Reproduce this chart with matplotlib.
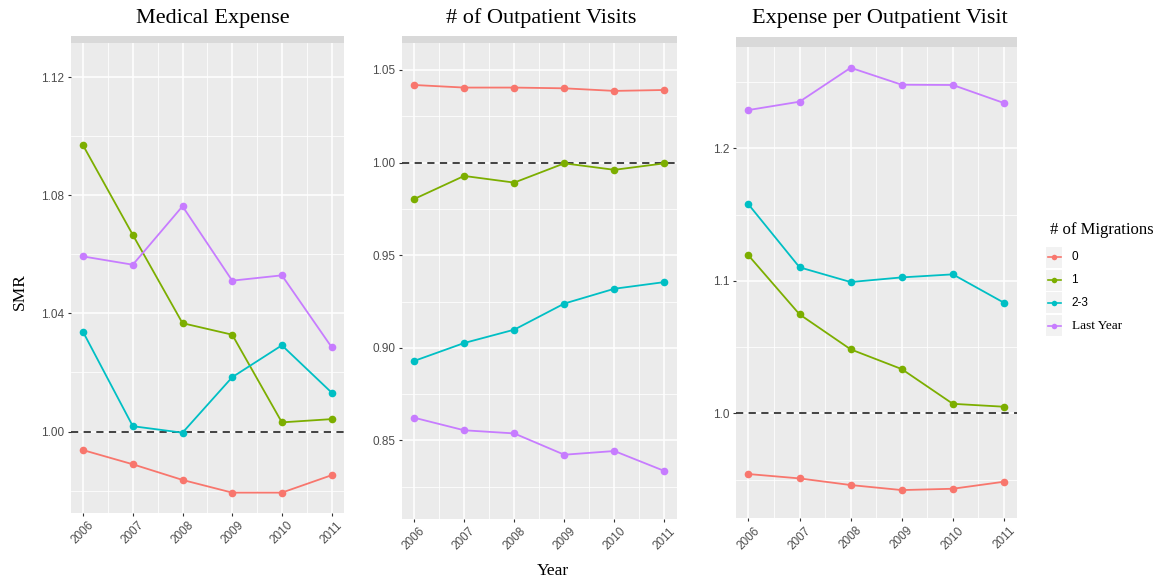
import matplotlib
matplotlib.use('Agg')
import matplotlib.pyplot as plt
from matplotlib.patches import Rectangle
from matplotlib.lines import Line2D
from matplotlib.ticker import FixedLocator, FormatStrFormatter

W, H = 1161, 579

years = [2006, 2007, 2008, 2009, 2010, 2011]
groups = ['0', '1', '2-3', 'Last Year']
colors = ['#F8766D', '#7CAE00', '#00BFC4', '#C77CFF']

# Medical expense SMR
med_0 = [0.9937, 0.9889, 0.9836, 0.9793, 0.9793, 0.9852]
med_1 = [1.0969, 1.0666, 1.0367, 1.0328, 1.0031, 1.0042]
med_23 = [1.0337, 1.0018, 0.9996, 1.0184, 1.0292, 1.0132]
med_last = [1.0593, 1.0565, 1.0763, 1.0511, 1.0529, 1.0286]

# number of outpatient visits SMR
vis_0 = [1.0419, 1.0405, 1.0405, 1.0401, 1.0387, 1.0392]
vis_1 = [0.9803, 0.9928, 0.9892, 0.9996, 0.9961, 0.9996]
vis_23 = [0.8929, 0.9026, 0.9098, 0.9239, 0.9319, 0.9355]
vis_last = [0.8623, 0.8555, 0.8538, 0.8423, 0.8443, 0.8335]

# expense per outpatient visit SMR
epv_0 = [0.9542, 0.9509, 0.9459, 0.9421, 0.9431, 0.9484]
epv_1 = [1.1192, 1.0747, 1.0483, 1.0334, 1.0072, 1.0050]
epv_23 = [1.1577, 1.1102, 1.0991, 1.1026, 1.1049, 1.0835]
epv_last = [1.2289, 1.2352, 1.2608, 1.2480, 1.2478, 1.2342]

titles = ['Medical Expense', '# of Outpatient Visits', 'Expense per Outpatient Visit']
major_ticks = [[1.00, 1.04, 1.08, 1.12],
               [0.85, 0.90, 0.95, 1.00, 1.05],
               [1.0, 1.1, 1.2]]
tick_fmt = ['%.2f', '%.2f', '%.1f']

SERIF = 'Liberation Serif'
SANS = 'Liberation Sans'

fig = plt.figure(figsize=(W / 100, H / 100), dpi=100)


def px_axes(left, top, right, bottom):
    return fig.add_axes([left / W, 1 - bottom / H, (right - left) / W, (bottom - top) / H])


def style_panel(ax, ticks, fmt, strip_px):
    ax.set_facecolor('#EBEBEB')
    for s in ax.spines.values():
        s.set_visible(False)
    ax.set_xlim(2005.75, 2011.25)
    ax.xaxis.set_major_locator(FixedLocator(years))
    ax.xaxis.set_minor_locator(FixedLocator([y + 0.5 for y in years[:-1]]))
    step = ticks[1] - ticks[0]
    minors = [ticks[0] - step / 2] + [t + step / 2 for t in ticks]
    ax.yaxis.set_major_locator(FixedLocator(ticks))
    ax.yaxis.set_minor_locator(FixedLocator(minors))
    ax.yaxis.set_major_formatter(FormatStrFormatter(fmt))
    ax.grid(True, which='major', color='white', linewidth=1.1)
    ax.grid(True, which='minor', color='white', linewidth=0.55)
    ax.set_axisbelow(True)
    ax.tick_params(which='major', length=2.5, width=0.8, color='#333333',
                   labelcolor='#4D4D4D', labelsize=8.5, pad=2)
    ax.tick_params(which='minor', length=0)
    for lab in ax.get_yticklabels():
        lab.set_fontfamily(SANS)
    for lab in ax.get_xticklabels():
        lab.set_fontfamily(SANS)
        lab.set_rotation(45)
        lab.set_ha('center')
        lab.set_va('top')
    # facet strip above the panel
    h = ax.get_position().height * H
    ax.add_patch(Rectangle((0, 1), 1, strip_px / h, transform=ax.transAxes,
                           facecolor='#D9D9D9', edgecolor='none', clip_on=False))


boxes = [(70.7, 43.0, 344.0, 513.0),
         (401.5, 43.3, 677.0, 519.0),
         (735.7, 46.7, 1016.7, 518.3)]
ylims = [(0.9724, 1.1316), (0.8076, 1.0644), (0.9208, 1.2767)]
strips = [7, 7, 10]
series = [[med_0, med_1, med_23, med_last],
          [vis_0, vis_1, vis_23, vis_last],
          [epv_0, epv_1, epv_23, epv_last]]
title_x = [213, 541, 880]

for i, box in enumerate(boxes):
    ax = px_axes(*box)
    for vals, c in zip(series[i], colors):
        ax.plot(years, vals, color=c, linewidth=1.3, marker='o', markersize=5.5,
                markeredgewidth=0, zorder=3)
    ax.axhline(1.0, color='#333333', linestyle=(0, (4, 3)), linewidth=1.3, zorder=2)
    ax.set_ylim(*ylims[i])
    style_panel(ax, major_ticks[i], tick_fmt[i], strips[i])
    fig.text(title_x[i] / W, 1 - 18 / H, titles[i], family=SERIF, fontsize=16,
             ha='center', va='center', color='black')

fig.text(20 / W, 1 - 292 / H, 'SMR', family=SERIF, fontsize=12.5,
         rotation=90, ha='center', va='center')
fig.text(553 / W, 1 - 571 / H, 'Year', family=SERIF, fontsize=12.5,
         ha='center', va='center')

# legend drawn in its own small axes
leg = px_axes(1040, 215, 1161, 340)
leg.set_xlim(1040, 1161)
leg.set_ylim(340, 215)
leg.axis('off')
leg.text(1050, 230, '# of Migrations', family=SERIF, fontsize=12,
         ha='left', va='center')
row_y = [257.5, 280.2, 302.9, 325.6]
for yk, c, g in zip(row_y, colors, groups):
    leg.add_patch(Rectangle((1046, yk - 10.5), 16, 21, facecolor='#F2F2F2',
                            edgecolor='none'))
    leg.add_line(Line2D([1047.5, 1060.5], [yk, yk], color=c, linewidth=1.2))
    leg.add_line(Line2D([1054], [yk], color=c, marker='o', markersize=4,
                        markeredgewidth=0))
    fam = SERIF if g == 'Last Year' else SANS
    fs = 9.5 if g == 'Last Year' else 8.5
    leg.text(1071.5, yk, g, family=fam, fontsize=fs, ha='left', va='center')

fig.savefig('out.png', dpi=100, facecolor='white')
